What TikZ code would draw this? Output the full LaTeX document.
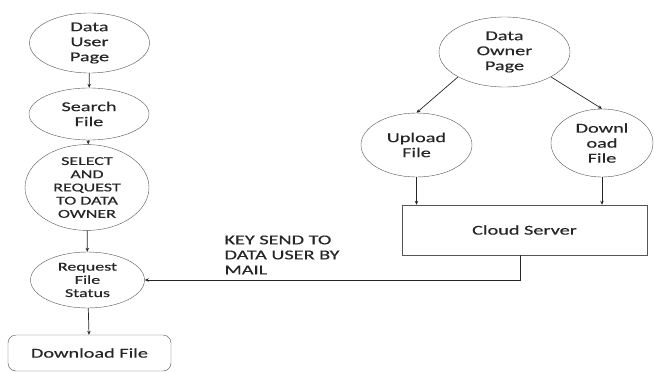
\documentclass[tikz,border=0pt]{standalone}
\usepackage{fontspec}
\setmainfont{Carlito}[FakeStretch=1.5, FakeBold=0.4]
\usetikzlibrary{shapes.geometric,arrows.meta}
\definecolor{edge}{HTML}{555555}
\definecolor{ink}{HTML}{262626}

\begin{document}
\begin{tikzpicture}[x=1pt, y=-1pt,
    every node/.style={text=ink, font=\fontsize{13.5}{15}\selectfont, align=center},
    oval/.style={draw=edge, ellipse, inner sep=0pt},
    small/.style={font=\fontsize{12}{13.2}\selectfont},
    flow/.style={draw=black!85, line width=0.7pt, -{Stealth[length=4pt,width=3.5pt]}}]
    \useasboundingbox (0,0) rectangle (654,372);

    % data user side
    \node[oval, minimum width=120pt, minimum height=60pt] (dup) at (89.5, 43) {Data\\User\\Page};
    \node[oval, minimum width=120pt, minimum height=52pt] (srch) at (89, 114) {Search\\File};
    \node[oval, small, minimum width=124pt, minimum height=70pt] (sel) at (87, 187.5) {SELECT\\AND\\REQUEST\\TO DATA\\OWNER};
    \node[oval, small, minimum width=114pt, minimum height=56pt] (req) at (87.5, 280) {Request\\File\\Status};
    \node[draw=edge, rounded corners=8pt, minimum width=163pt, minimum height=36pt] (get) at (89.5, 353) {Download File};

    % data owner side
    \node[oval, minimum width=131pt, minimum height=70pt] (dop) at (504.5, 52) {Data\\Owner\\Page};
    \node[oval, minimum width=111pt, minimum height=64pt] (up) at (416.5, 145) {Upload\\File};
    \node[oval, minimum width=102pt, minimum height=68pt] (down) at (602, 143) {Downl\\oad\\File};
    \node[draw=edge, minimum width=245pt, minimum height=50pt] (cloud) at (524.5, 230) {Cloud Server};

    \node[anchor=north west, align=left] (key) at (221, 232) {KEY SEND TO\\DATA USER BY\\MAIL};

    \draw[flow] (dup) -- (srch);
    \draw[flow] (srch) -- (sel);
    \draw[flow] (sel) -- (req);
    \draw[flow] (req) -- (get);

    \draw[flow] (dop.south west) -- (up.north);
    \draw[flow] (dop.south east) -- (down.north);
    \draw[flow] (up.south) -- (up.south |- cloud.north);
    \draw[flow] (down.south) -- (down.south |- cloud.north);

    \draw[flow] ([xshift=-4pt]cloud.south) |- (req.east);

\end{tikzpicture}
\end{document}
